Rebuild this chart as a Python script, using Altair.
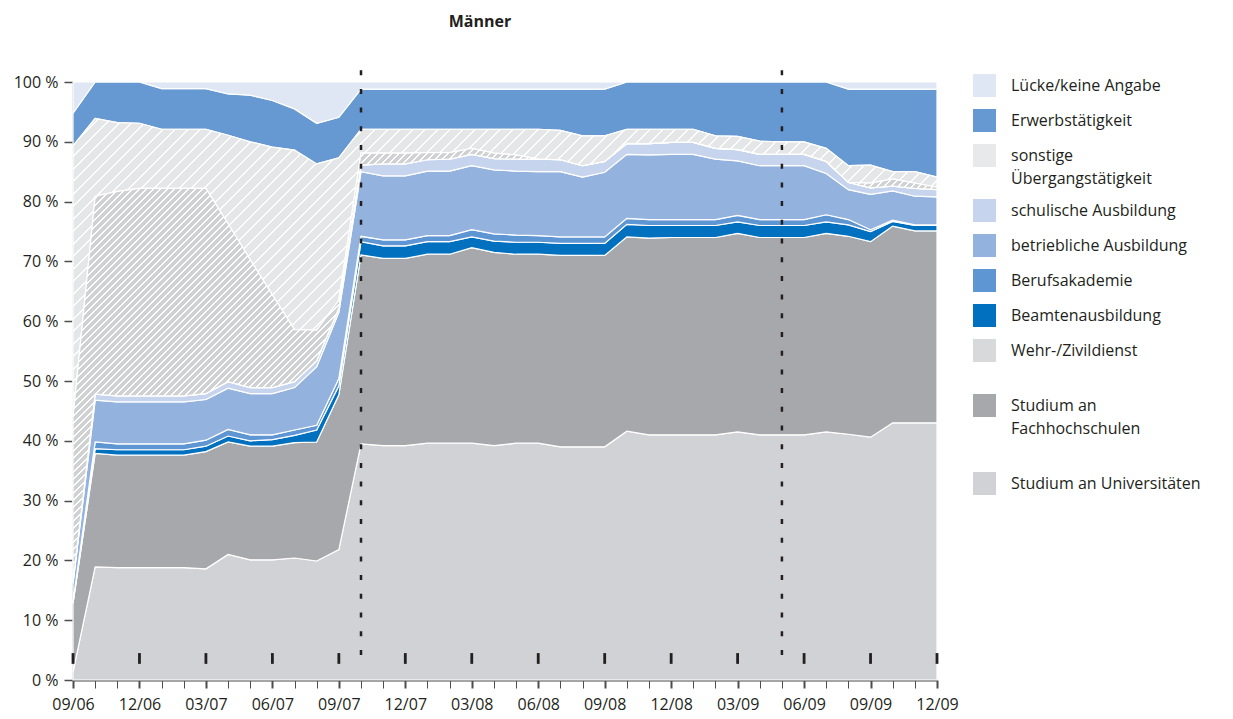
import altair as alt
import pandas as pd

# ---------------- data ----------------
months = ["09/06", "10/06", "11/06", "12/06", "01/07", "02/07", "03/07", "04/07", "05/07", "06/07",
          "07/07", "08/07", "09/07", "10/07", "11/07", "12/07", "01/08", "02/08", "03/08", "04/08",
          "05/08", "06/08", "07/08", "08/08", "09/08", "10/08", "11/08", "12/08", "01/09", "02/09",
          "03/09", "04/09", "05/09", "06/09", "07/09", "08/09", "09/09", "10/09", "11/09", "12/09"]
quarter_labels = ["09/06", "12/06", "03/07", "06/07", "09/07", "12/07", "03/08", "06/08",
                  "09/08", "12/08", "03/09", "06/09", "09/09", "12/09"]
quarter_months = [0, 3, 6, 9, 12, 15, 18, 21, 24, 27, 30, 33, 36, 39]
event_months = [13, 32]

uni = [1.3, 18.9, 18.8, 18.8, 18.8, 18.8, 18.6, 21.0, 20.1, 20.1, 20.4, 19.9, 21.8, 39.5, 39.2, 39.2,
       39.6, 39.6, 39.6, 39.2, 39.6, 39.6, 39.0, 39.0, 39.0, 41.6, 41.0, 41.0, 41.0, 41.0, 41.5, 41.0,
       41.0, 41.0, 41.5, 41.1, 40.6, 43.0, 43.0, 43.0]
fh = [11.5, 19.0, 18.8, 18.8, 18.8, 18.8, 19.6, 18.8, 19.0, 19.0, 19.3, 19.9, 25.9, 31.6, 31.3, 31.3,
      31.6, 31.6, 32.7, 32.3, 31.6, 31.6, 32.0, 32.0, 32.0, 32.5, 32.9, 33.0, 33.0, 33.0, 33.2, 33.0,
      33.0, 33.0, 33.2, 33.1, 32.7, 32.9, 32.1, 32.1]
beamten = [0.0, 0.8, 0.9, 0.9, 0.9, 0.9, 0.9, 1.0, 0.9, 1.1, 1.2, 2.0, 1.5, 2.2, 2.1, 2.1,
           2.1, 2.1, 1.8, 1.9, 2.0, 2.0, 2.0, 2.0, 2.0, 2.1, 2.1, 2.0, 2.0, 2.0, 1.9, 2.0,
           2.0, 2.0, 1.9, 1.9, 1.7, 0.8, 0.9, 0.9]
berufsakademie = [0.3, 1.1, 1.0, 1.0, 1.0, 1.0, 1.0, 1.1, 1.0, 0.8, 0.9, 0.8, 1.2, 0.9, 1.0, 1.0,
                  1.0, 1.0, 1.2, 1.2, 1.2, 1.1, 1.1, 1.1, 1.1, 1.0, 1.0, 1.0, 1.0, 1.0, 1.1, 1.0,
                  1.0, 1.0, 1.2, 0.9, 0.3, 0.2, 0.1, 0.1]
betrieblich = [3.0, 7.0, 7.0, 7.0, 7.0, 7.0, 6.8, 6.9, 6.9, 6.9, 7.1, 9.8, 11.1, 10.8, 10.7, 10.7,
               10.8, 10.8, 10.7, 10.7, 10.7, 10.7, 10.9, 10.0, 10.8, 10.7, 10.8, 10.9, 10.9, 10.1, 9.1, 9.0,
               9.0, 9.0, 6.9, 5.0, 5.9, 4.9, 4.8, 4.7]
schulisch = [0.3, 1.0, 1.0, 1.0, 1.0, 1.0, 1.0, 1.1, 1.0, 1.0, 1.0, 1.0, 0.7, 1.1, 2.0, 2.0,
             1.9, 2.0, 1.9, 1.9, 2.0, 2.1, 2.0, 1.9, 1.8, 1.8, 1.9, 2.0, 2.0, 1.8, 1.9, 1.9,
             1.9, 1.9, 2.0, 1.2, 1.1, 0.8, 1.3, 1.2]
wehrdienst = [27.6, 33.1, 34.2, 34.7, 34.7, 34.7, 34.3, 26.4, 21.4, 15.5, 8.7, 5.1, 1.3, 2.0, 1.8, 1.8,
              1.2, 1.1, 1.0, 0.9, 0.7, 0.0, 0.0, 0.0, 0.0, 0.0, 0.0, 0.0, 0.0, 0.0, 0.0, 0.0,
              0.0, 0.0, 0.0, 0.0, 0.8, 1.2, 0.9, 0.4]
sonstige = [45.3, 13.0, 11.5, 10.9, 9.9, 9.9, 9.9, 14.8, 19.7, 24.7, 30.0, 27.8, 23.8, 4.0, 4.0, 4.0,
            3.9, 3.9, 3.2, 4.0, 4.3, 5.0, 4.9, 5.0, 4.3, 2.4, 2.4, 2.2, 2.2, 2.1, 2.2, 2.2,
            2.1, 2.1, 2.2, 2.8, 3.0, 1.2, 1.9, 1.7]
erwerb = [5.5, 6.1, 6.8, 6.9, 6.8, 6.8, 6.8, 6.9, 7.8, 7.8, 6.9, 6.8, 6.8, 6.7, 6.7, 6.7,
          6.7, 6.7, 6.7, 6.7, 6.7, 6.7, 6.9, 7.8, 7.8, 7.9, 7.9, 7.9, 7.9, 9.0, 9.1, 9.9,
          10.0, 10.0, 11.1, 12.8, 12.7, 13.8, 13.8, 14.7]
luecke = [5.2, 0.0, 0.0, 0.0, 1.1, 1.1, 1.1, 2.0, 2.2, 3.1, 4.5, 6.9, 5.9, 1.2, 1.2, 1.2,
          1.2, 1.2, 1.2, 1.2, 1.2, 1.2, 1.2, 1.2, 1.2, 0.0, 0.0, 0.0, 0.0, 0.0, 0.0, 0.0,
          0.0, 0.0, 0.0, 1.2, 1.2, 1.2, 1.2, 1.2]

# stacking order bottom -> top
stack_order = ["Studium an Universitäten", "Studium an Fachhochschulen", "Beamtenausbildung",
               "Berufsakademie", "betriebliche Ausbildung", "schulische Ausbildung",
               "Wehr-/Zivildienst", "sonstige Übergangstätigkeit", "Erwerbstätigkeit",
               "Lücke/keine Angabe"]
series = dict(zip(stack_order, [uni, fh, beamten, berufsakademie, betrieblich, schulisch,
                                wehrdienst, sonstige, erwerb, luecke]))
legend_order = ["Lücke/keine Angabe", "Erwerbstätigkeit", "sonstige Übergangstätigkeit",
                "schulische Ausbildung", "betriebliche Ausbildung", "Berufsakademie",
                "Beamtenausbildung", "Wehr-/Zivildienst", "Studium an Fachhochschulen",
                "Studium an Universitäten"]
colors = {
    "Lücke/keine Angabe": "#dfe6f4",
    "Erwerbstätigkeit": "#6699d1",
    "sonstige Übergangstätigkeit": "#e8e9ea",
    "schulische Ausbildung": "#c6d4ee",
    "betriebliche Ausbildung": "#93b3de",
    "Berufsakademie": "#5e95d3",
    "Beamtenausbildung": "#0070bf",
    "Wehr-/Zivildienst": "#d8d9db",
    "Studium an Fachhochschulen": "#a7a8ab",
    "Studium an Universitäten": "#d1d2d5",
}

PLOT_W, PLOT_H = 864, 598
FONT = "Open Sans"
INK = "#231f20"

rows = []
for k, name in enumerate(stack_order):
    for i, v in enumerate(series[name]):
        rows.append({"m": i, "cat": name, "v": v, "ord": k})
df = pd.DataFrame(rows)

# vertical extent of each stacked band (for hatch gradients)
bounds = {}
cum = [0.0] * len(months)
for name in stack_order:
    top = [a + b for a, b in zip(cum, series[name])]
    bounds[name] = (min(cum), max(top))
    cum = top


def hatch(base, stripe, lo, hi, period, stripe_w):
    W = PLOT_W
    H = (hi - lo) / 100.0 * PLOT_H
    L = W + H
    k = L / (W * W + H * H)
    stops = []
    pos = 0.0
    while pos < L:
        a = round(pos / L, 5)
        b = round(min((pos + stripe_w) / L, 1.0), 5)
        c = round(min((pos + period) / L, 1.0), 5)
        stops += [alt.GradientStop(offset=a, color=stripe), alt.GradientStop(offset=b, color=stripe),
                  alt.GradientStop(offset=b, color=base), alt.GradientStop(offset=c, color=base)]
        pos += period
    return alt.LinearGradient(gradient="linear", stops=stops, x1=0, y1=0,
                              x2=round(k * W, 5), y2=round(k * H, 5))


x_label_expr = ("datum.value % 3 == 0 ? " + str(quarter_labels) + "[floor(datum.value / 3)] : ''")
legend_label_expr = (
    "datum.label == 'sonstige Übergangstätigkeit' ? ['sonstige', 'Übergangstätigkeit'] : "
    "datum.label == 'Wehr-/Zivildienst' ? ['Wehr-/Zivildienst', ''] : "
    "datum.label == 'Studium an Fachhochschulen' ? ['Studium an', 'Fachhochschulen', ''] : datum.label"
)

xscale = alt.Scale(domain=[0, len(months) - 1], nice=False, zero=False)
yscale = alt.Scale(domain=[0, 100], nice=False)

xaxis = alt.Axis(
    values=list(range(len(months))), labelExpr=x_label_expr, title=None, grid=False,
    tickSize=8, labelPadding=8, labelFlush=False, labelOverlap=False, domainWidth=2,
    tickWidth={"condition": {"test": "datum.value % 3 == 0", "value": 2}, "value": 1})
yaxis = alt.Axis(
    values=list(range(0, 101, 10)), labelExpr="datum.value + ' %'", title=None, grid=False,
    tickSize=9, labelPadding=6, labelFlush=False, minExtent=60, maxExtent=60,
    domainWidth=1.5, tickWidth=1.5)

base = alt.Chart(df).transform_stack(
    stack="v", groupby=["m"], as_=["y0", "y1"], sort=[alt.SortField("ord", order="ascending")]
)

areas = base.mark_area(stroke="white", strokeWidth=1.2, interpolate="linear", opacity=1).encode(
    x=alt.X("m:Q", scale=xscale, axis=xaxis),
    y=alt.Y("y0:Q", scale=yscale, axis=yaxis),
    y2="y1:Q",
    color=alt.Color("cat:N", title=None,
                    scale=alt.Scale(domain=legend_order, range=[colors[c] for c in legend_order]),
                    legend=alt.Legend(orient="none", legendX=900, legendY=-8, direction="vertical",
                                      symbolType="square", symbolSize=529, symbolStrokeWidth=0,
                                      symbolOpacity=1, labelFontSize=16, labelFont=FONT,
                                      labelColor=INK, labelOffset=15, rowPadding=12,
                                      labelLimit=400, labelExpr=legend_label_expr,
                                      labelBaseline="middle", padding=0)),
)


def hatched_layer(name, base_col, period, stripe_w):
    lo, hi = bounds[name]
    return base.transform_filter(alt.datum.cat == name).mark_area(
        fill=hatch(base_col, "#ffffff", lo, hi, period, stripe_w),
        stroke="white", strokeWidth=1.2, interpolate="linear"
    ).encode(
        x=alt.X("m:Q", scale=xscale, axis=xaxis),
        y=alt.Y("y0:Q", scale=yscale, axis=yaxis),
        y2="y1:Q",
    )


hatch_sonst = hatched_layer("sonstige Übergangstätigkeit", "#e5e6e7", 12.5, 2.0)
hatch_wehr = hatched_layer("Wehr-/Zivildienst", "#d0d1d3", 7.0, 2.4)

qdf = pd.DataFrame({"m": quarter_months})
inner_ticks = alt.Chart(qdf).mark_rule(color=INK, strokeWidth=2.8).encode(
    x=alt.X("m:Q", scale=xscale, axis=xaxis),
    y=alt.Y(datum=2.7, scale=yscale, axis=yaxis),
    y2=alt.Y2(datum=4.5),
)

edf = pd.DataFrame({"m": event_months})
event_lines = alt.Chart(edf).mark_rule(color=INK, strokeWidth=2.5, strokeDash=[5, 13.7]).encode(
    x=alt.X("m:Q", scale=xscale, axis=xaxis),
    y=alt.Y(datum=4.2, scale=yscale, axis=yaxis),
    y2=alt.Y2(datum=102),
)

chart = alt.layer(areas, hatch_sonst, hatch_wehr, inner_ticks, event_lines).properties(
    width=PLOT_W, height=PLOT_H,
    title=alt.Title("Männer", anchor="middle", frame="group", offset=39, dx=-25,
                    fontSize=16, fontWeight="bold", font=FONT, color=INK),
).configure(
    font=FONT, style={"guide-label": {"lineHeight": 23}}
).configure_view(stroke=None).configure_axis(
    domainColor="#4d4d4d", tickColor="#4d4d4d", labelColor=INK, labelFont=FONT, labelFontSize=16
)

chart.save("out.html", embed_options={"renderer": "svg", "actions": False})
